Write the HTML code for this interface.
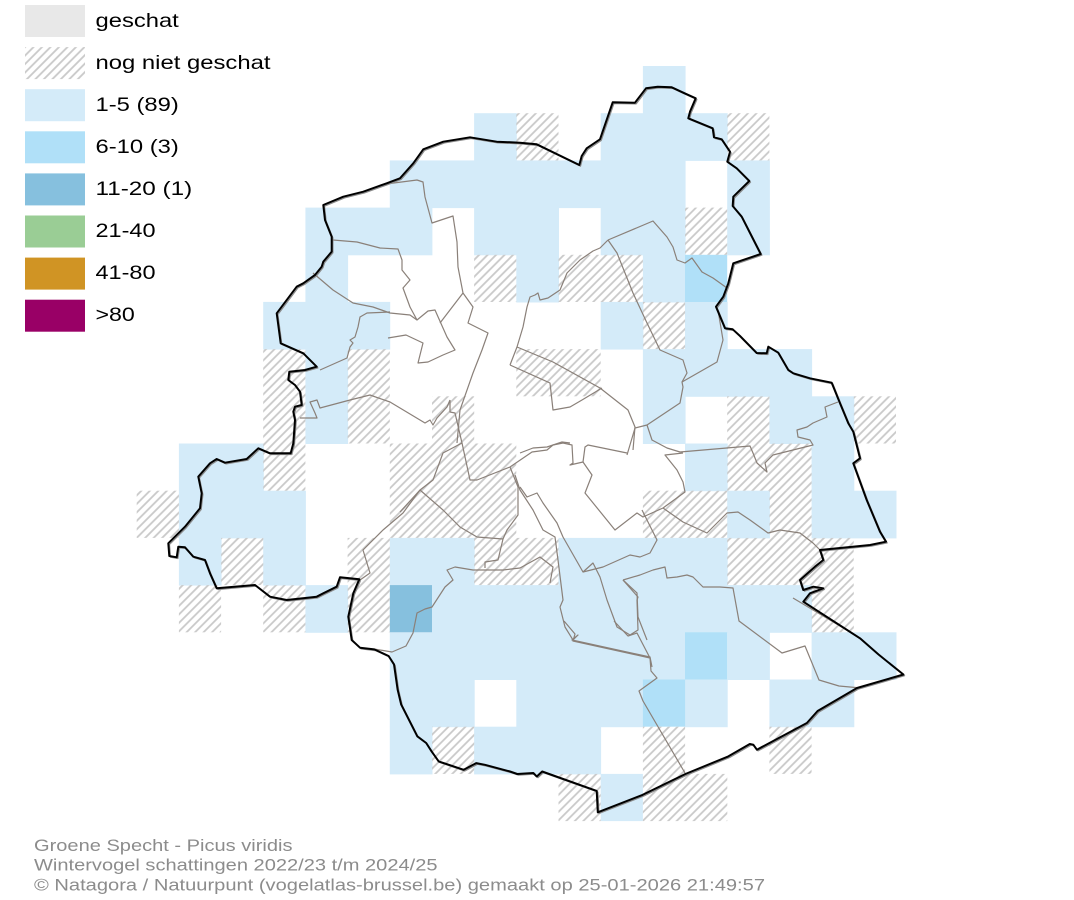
<!DOCTYPE html>
<html><head><meta charset="utf-8"><style>
html,body{margin:0;padding:0;background:#fff;}
svg{display:block;}
</style></head><body>
<svg width="1074" height="900" viewBox="0 0 1074 900" xmlns="http://www.w3.org/2000/svg">
<defs>
<pattern id="h" patternUnits="userSpaceOnUse" width="6" height="6" patternTransform="rotate(45)">
<line x1="3" y1="-1" x2="3" y2="7" stroke="#c9c9c9" stroke-width="1.8"/>
</pattern>
<polygon id="bnd" points="520,142.7 536.7,144.3 579.3,165 581.7,156 586.7,148.3 600,139.3 612.7,102.3 635,102.7 646,88.3 657.7,86.7 671.7,87.3 683.3,92.7 695.7,98.3 690,111.7 688.3,118.3 712.7,128.3 714,137.3 721.7,139.3 730,151.7 727.3,161.7 736.7,168.3 749.3,181 733.3,196.7 732.7,206 741.7,216.7 760.7,254 733.3,263.3 728.3,283.3 723.3,296.7 716,306.7 725,328.3 732.7,329.3 740,336 756.7,353 766.7,353.3 768.3,346.7 778.3,352.7 788.3,370 793.3,373.3 810,378.3 831.7,382.7 840,403.3 848.3,423.3 853.3,431.7 860,458.3 853.3,463.3 866.7,500 880,531.7 886,541.7 870,545 820,550 823.3,560 815,566.7 800,580 803.3,590 813.3,586.7 823.3,588.3 810,593.3 803.3,601.7 860,638.3 878.4,654.4 903.4,674.5 857,688 817.6,711 806.9,723 756.9,749.7 753.3,744.7 749.8,744 728.3,756.4 685.4,774 642.5,794.9 597.8,812.3 596.7,790.9 542.2,771.5 536.8,776.5 533.3,773 517.3,774 510,771.5 485,764.8 476.2,763.1 463.7,769.8 438.7,761.4 431.6,751.4 426.2,743 417.3,736.3 401.2,704.6 397.6,689.5 394,664.4 388.6,656 374.3,649.4 360,647.7 351.7,640 348.3,616.7 353.3,593.3 359.3,579.3 340,577.3 336.7,586.7 323.3,593.3 316.7,596.7 286.7,600 270,596.7 255,585 216.7,588.3 210,573.3 205,560 193.3,556.7 185,547.3 178.3,546.7 176.7,557.3 169.3,556 168.3,543.3 185,526.7 200,508.3 201.7,493.3 198.3,476.7 210,463.3 216.7,459 225,462.7 246.7,459 258.3,448.3 270,453.3 290.7,453.3 293.3,443.3 295,420 293.3,411.7 295,406.7 301.7,405 300,391.7 295,385 288.3,380 289.3,371.7 305,370 316.7,366.7 311.7,361.7 303.3,353.3 280.7,343.3 276.7,313.3 281.7,306.7 296.7,286.7 303.3,283.3 315,275 321.7,266.7 323.3,261.7 331.7,251.7 331.7,236.7 325,220 323.3,205 343.3,196.7 363.3,191.7 386.7,183.3 400,178.3 413.3,163.3 423.3,149.3 443.3,141.7 470,137.3 496.7,141.7"/>
</defs>
<rect width="1074" height="900" fill="#fff"/>

<g fill="#d4ebf9">
<rect x="642.9" y="66" width="42.7" height="47.7"/>
<rect x="474.1" y="113.2" width="42.7" height="47.7"/>
<rect x="600.7" y="113.2" width="127" height="47.7"/>
<rect x="389.8" y="160.4" width="295.8" height="47.7"/>
<rect x="727.2" y="160.4" width="42.7" height="47.7"/>
<rect x="305.4" y="207.6" width="127" height="47.7"/>
<rect x="474.1" y="207.6" width="84.9" height="47.7"/>
<rect x="600.7" y="207.6" width="84.9" height="47.7"/>
<rect x="727.2" y="207.6" width="42.7" height="47.7"/>
<rect x="305.4" y="254.8" width="42.7" height="47.7"/>
<rect x="516.3" y="254.8" width="42.7" height="47.7"/>
<rect x="642.9" y="254.8" width="42.7" height="47.7"/>
<rect x="263.2" y="301.9" width="127" height="47.7"/>
<rect x="600.7" y="301.9" width="42.7" height="47.7"/>
<rect x="685.0" y="301.9" width="42.7" height="47.7"/>
<rect x="305.4" y="349.1" width="42.7" height="47.7"/>
<rect x="642.9" y="349.1" width="169.2" height="47.7"/>
<rect x="305.4" y="396.3" width="42.7" height="47.7"/>
<rect x="642.9" y="396.3" width="42.7" height="47.7"/>
<rect x="769.4" y="396.3" width="84.9" height="47.7"/>
<rect x="178.9" y="443.5" width="84.9" height="47.7"/>
<rect x="685.0" y="443.5" width="42.7" height="47.7"/>
<rect x="811.6" y="443.5" width="42.7" height="47.7"/>
<rect x="178.9" y="490.7" width="127" height="47.7"/>
<rect x="727.2" y="490.7" width="42.7" height="47.7"/>
<rect x="811.6" y="490.7" width="84.9" height="47.7"/>
<rect x="178.9" y="537.9" width="42.7" height="47.7"/>
<rect x="263.2" y="537.9" width="42.7" height="47.7"/>
<rect x="389.8" y="537.9" width="84.9" height="47.7"/>
<rect x="558.5" y="537.9" width="169.2" height="47.7"/>
<rect x="305.4" y="585.1" width="42.7" height="47.7"/>
<rect x="432.0" y="585.1" width="380.1" height="47.7"/>
<rect x="389.8" y="632.3" width="295.8" height="47.7"/>
<rect x="727.2" y="632.3" width="42.7" height="47.7"/>
<rect x="811.6" y="632.3" width="84.9" height="47.7"/>
<rect x="389.8" y="679.5" width="84.9" height="47.7"/>
<rect x="516.3" y="679.5" width="127" height="47.7"/>
<rect x="685.0" y="679.5" width="42.7" height="47.7"/>
<rect x="769.4" y="679.5" width="84.9" height="47.7"/>
<rect x="389.8" y="726.7" width="42.7" height="47.7"/>
<rect x="474.1" y="726.7" width="127" height="47.7"/>
<rect x="600.7" y="773.9" width="42.2" height="47.2"/>
</g>
<g fill="#b0e0f8">
<rect x="685.0" y="254.8" width="42.2" height="47.2"/>
<rect x="685.0" y="632.3" width="42.2" height="47.2"/>
<rect x="642.9" y="679.5" width="42.2" height="47.2"/>
</g>
<rect x="389.8" y="585.1" width="42.2" height="47.2" fill="#86c0de"/>

<g fill="url(#h)">
<rect x="516.3" y="113.2" width="42.2" height="47.2"/>
<rect x="727.2" y="113.2" width="42.2" height="47.2"/>
<rect x="685.0" y="207.6" width="42.2" height="47.2"/>
<rect x="474.1" y="254.8" width="42.2" height="47.2"/>
<rect x="558.5" y="254.8" width="84.4" height="47.2"/>
<rect x="642.9" y="301.9" width="42.2" height="47.2"/>
<rect x="263.2" y="349.1" width="42.2" height="47.2"/>
<rect x="347.6" y="349.1" width="42.2" height="47.2"/>
<rect x="516.3" y="349.1" width="84.4" height="47.2"/>
<rect x="263.2" y="396.3" width="42.2" height="47.2"/>
<rect x="347.6" y="396.3" width="42.2" height="47.2"/>
<rect x="432.0" y="396.3" width="42.2" height="47.2"/>
<rect x="727.2" y="396.3" width="42.2" height="47.2"/>
<rect x="853.8" y="396.3" width="42.2" height="47.2"/>
<rect x="263.2" y="443.5" width="42.2" height="47.2"/>
<rect x="389.8" y="443.5" width="126.5" height="47.2"/>
<rect x="727.2" y="443.5" width="84.4" height="47.2"/>
<rect x="136.7" y="490.7" width="42.2" height="47.2"/>
<rect x="389.8" y="490.7" width="126.5" height="47.2"/>
<rect x="642.9" y="490.7" width="84.4" height="47.2"/>
<rect x="769.4" y="490.7" width="42.2" height="47.2"/>
<rect x="221.1" y="537.9" width="42.2" height="47.2"/>
<rect x="347.6" y="537.9" width="42.2" height="47.2"/>
<rect x="474.1" y="537.9" width="84.4" height="47.2"/>
<rect x="727.2" y="537.9" width="126.5" height="47.2"/>
<rect x="178.9" y="585.1" width="42.2" height="47.2"/>
<rect x="263.2" y="585.1" width="42.2" height="47.2"/>
<rect x="347.6" y="585.1" width="42.2" height="47.2"/>
<rect x="811.6" y="585.1" width="42.2" height="47.2"/>
<rect x="432.0" y="726.7" width="42.2" height="47.2"/>
<rect x="642.9" y="726.7" width="42.2" height="47.2"/>
<rect x="769.4" y="726.7" width="42.2" height="47.2"/>
<rect x="558.5" y="773.9" width="42.2" height="47.2"/>
<rect x="642.9" y="773.9" width="84.4" height="47.2"/>
</g>

<g fill="none" stroke="#8a8079" stroke-width="1.2" stroke-linejoin="round">
<polyline points="333,240 357,242 380,248 398,249 402,260 402,270 410,280 403,288 410,307 417,320"/>
<polyline points="313,273 333,290 353,303 373,307 390,313 410,315 417,320 428,311 435,310 447,337 455,350 443,355 428,362 418,363 423,343 406,335 388,338"/>
<polyline points="320,370 347,358 350,347 353,343 350,340 355,337 358,327 360,317 367,313 390,312"/>
<polyline points="300,418 317,418 315,413 310,402 317,400 320,408 350,400 370,395 390,402 425,423 430,420 433,425 437,418 447,407 450,400"/>
<polyline points="386,184 417,180 423,182 425,197 432,223 453,216 457,242 458,267 463,293 473,307 468,323 488,333 482,350 473,373 460,410 457,443"/>
<polyline points="440,323 463,293"/>
<polyline points="608,240 600,248 593,251 580,260 567,273 560,290 548,298 540,300 538,293 535,295 530,297 527,307 523,327 517,347 510,365"/>
<polyline points="517,347 553,362 600,388 628,410 635,427 633,450"/>
<polyline points="510,365 550,383 553,410 570,407 582,400 602,388"/>
<polyline points="608,240 653,221 667,237 673,247 677,260 685,263 692,258 702,272 713,278 727,288"/>
<polyline points="608,240 617,253 633,293 647,323 660,350 683,360 687,373 682,382 683,387 680,403 647,425 635,428 627,455"/>
<polyline points="682,382 717,362 723,340 718,310"/>
<polyline points="647,425 652,440 667,448 680,452 750,446 753,453 757,463 767,472 765,463 773,455 813,445 810,440 798,437 797,430 807,427 813,423 827,417 825,407 838,402"/>
<polyline points="450,400 450,412 455,413 462,443 470,480 477,480 510,467 532,452 547,450 553,445 563,443 572,445 573,463 570,465 583,462 585,447 588,445 627,453"/>
<polyline points="520,453 533,448 547,447 562,442 570,443"/>
<polyline points="583,462 592,475 585,493 615,530 637,513 643,517 663,508 685,492 683,482 677,470 665,455 683,453"/>
<polyline points="663,508 683,522 707,533 727,513 738,512 750,520 768,533 780,530 800,533 813,543 822,552"/>
<polyline points="462,443 443,453 433,480 420,490 400,512"/>
<polyline points="420,490 443,510 460,527 477,537 503,539 507,530 518,515 518,487 510,467"/>
<polyline points="420,490 403,513 383,530 363,550 370,573 360,580"/>
<polyline points="503,539 498,560 485,562 485,568"/>
<polyline points="515,475 520,490 533,510 543,530 555,537 558,560 563,600 560,607 565,627 573,640 578,635 572,640 650,657 652,667"/>
<polyline points="520,487 527,497 537,493 543,503 557,523 563,537 583,572 593,563 600,577 607,600 617,627 630,635 638,630 637,600 638,597 623,580"/>
<polyline points="583,572 603,567 630,555 640,557 650,553 657,540 642,510"/>
<polyline points="623,580 640,575 653,570 665,567 667,578 677,577 687,575 693,577 703,587 720,587 733,588 737,610 739,621 782,653 805,646 819,680 839,686 861,688"/>
<polyline points="623,580 637,593 638,617 647,640"/>
<polyline points="374,649 392,652 406,646 413,633 417,613 425,609 432,607 445,587 453,580 447,570 455,567 473,570 487,570 503,570 520,568 540,557 553,567 550,583"/>
<polyline points="564,621 575,634 573,641 650,658 651,671 657,678 639,691 643,701 685,773"/>
<polyline points="614,621 628,636 637,633 650,658"/>
<polyline points="793,598 860,638"/>
</g>

<g fill="none" stroke-linejoin="round">
<use href="#bnd" transform="translate(1.2,1.2)" stroke="#8a8a8a" stroke-width="1.2"/>
<use href="#bnd" stroke="#000" stroke-width="2"/>
</g>

<rect x="25" y="5" width="60" height="32" fill="#e8e8e8"/>
<rect x="25" y="47.1" width="60" height="32" fill="url(#h)"/>
<rect x="25" y="89.2" width="60" height="32" fill="#d4ebf9"/>
<rect x="25" y="131.3" width="60" height="32" fill="#b0e0f8"/>
<rect x="25" y="173.4" width="60" height="32" fill="#86c0de"/>
<rect x="25" y="215.5" width="60" height="32" fill="#9acd95"/>
<rect x="25" y="257.6" width="60" height="32" fill="#d09424"/>
<rect x="25" y="299.7" width="60" height="32" fill="#990066"/>

<g font-family="'Liberation Sans', Arial, sans-serif" font-size="19.5" fill="#000">
<text x="95.5" y="27" textLength="83.3" lengthAdjust="spacingAndGlyphs">geschat</text>
<text x="95.5" y="69" textLength="175" lengthAdjust="spacingAndGlyphs">nog niet geschat</text>
<text x="95.5" y="111" textLength="83.3" lengthAdjust="spacingAndGlyphs">1-5 (89)</text>
<text x="95.5" y="153" textLength="83.3" lengthAdjust="spacingAndGlyphs">6-10 (3)</text>
<text x="95.5" y="195" textLength="96.7" lengthAdjust="spacingAndGlyphs">11-20 (1)</text>
<text x="95.5" y="237" textLength="60" lengthAdjust="spacingAndGlyphs">21-40</text>
<text x="95.5" y="279" textLength="60" lengthAdjust="spacingAndGlyphs">41-80</text>
<text x="95.5" y="321" textLength="39.3" lengthAdjust="spacingAndGlyphs">&gt;80</text>
</g>

<g font-family="'Liberation Sans', Arial, sans-serif" font-size="17" fill="#8c8c8c">
<text x="34" y="851" textLength="258.5" lengthAdjust="spacingAndGlyphs">Groene Specht - Picus viridis</text>
<text x="34" y="870.7" textLength="403.5" lengthAdjust="spacingAndGlyphs">Wintervogel schattingen 2022/23 t/m 2024/25</text>
<text x="34" y="890.7" textLength="731" lengthAdjust="spacingAndGlyphs">© Natagora / Natuurpunt (vogelatlas-brussel.be) gemaakt op 25-01-2026 21:49:57</text>
</g>
</svg>
</body></html>
